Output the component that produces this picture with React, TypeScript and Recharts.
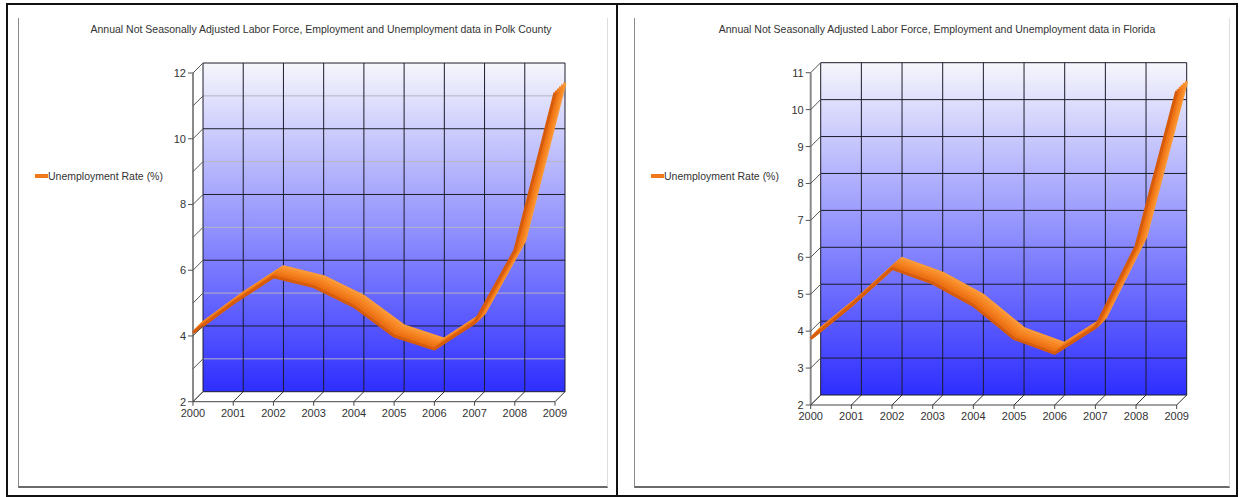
import { CartesianGrid, Legend, Line, LineChart, ReferenceLine, XAxis, YAxis } from "recharts";

const YEARS = ["2000", "2001", "2002", "2003", "2004", "2005", "2006", "2007", "2008", "2009"];
const POLK_RATE = [4.1, 5.0, 5.8, 5.5, 4.9, 4.0, 3.6, 4.4, 6.6, 11.4];
const FLORIDA_RATE = [3.8, 4.7, 5.7, 5.3, 4.7, 3.8, 3.4, 4.1, 6.3, 10.5];
const POLK_TICKS = [2, 3, 4, 5, 6, 7, 8, 9, 10, 11, 12];
const FLORIDA_TICKS = [2, 3, 4, 5, 6, 7, 8, 9, 10, 11];
const SERIES_NAME = "Unemployment Rate (%)";
const POLK_TITLE =
  "Annual Not Seasonally Adjusted Labor Force, Employment and Unemployment data in Polk County";
const FLORIDA_TITLE =
  "Annual Not Seasonally Adjusted Labor Force, Employment and Unemployment data in Florida";

const FONT = "Arial, 'Liberation Sans', Helvetica, sans-serif";
const DEPTH = 10;
const GRID_DARK = "#1c1c2c";
const GRID_LIGHT = "#b4b4c6";

// ribbon layers, back to front (d = distance from the front plane)
const LAYERS = [
  { d: 10, color: "#fb9a38", w: 3 },
  { d: 8, color: "#f98f2c", w: 3.5 },
  { d: 6, color: "#f68523", w: 3.5 },
  { d: 4, color: "#f27b1b", w: 3.5 },
  { d: 2, color: "#ec7014", w: 3.5 },
  { d: 0, color: "#d65b0a", w: 3 },
];

const emptyTick = () => <g />;

type PanelProps = {
  title: string;
  values: number[];
  ticks: number[];
  labelStep: number;
  gradId: string;
  left: number;
  top: number;
  width: number;
  height: number;
  plotLeft: number;
  plotTop: number;
  plotRight: number;
  plotBottom: number;
};

function DepthChart(p: PanelProps) {
  const data = YEARS.map((year, i) => ({ year, rate: p.values[i] }));
  const yMin = p.ticks[0];
  const yMax = p.ticks[p.ticks.length - 1];
  const margin = {
    top: p.plotTop,
    left: p.plotLeft - 40,
    right: p.width - p.plotRight,
    bottom: p.height - p.plotBottom - 30,
  };

  const yTick = (t: any) => {
    const v = Number(t.payload.value);
    const y = t.y;
    const ax = p.plotLeft;
    const labelled = (v - yMin) % p.labelStep === 0;
    return (
      <g>
        {labelled && <line x1={ax - 5} y1={y} x2={ax} y2={y} stroke="#555" />}
        <line x1={ax} y1={y} x2={ax + DEPTH} y2={y - DEPTH} stroke="#555" />
        {labelled && (
          <text x={ax - 7} y={y + 4} textAnchor="end" fontSize={11} fontFamily={FONT} fill="#333">
            {v}
          </text>
        )}
      </g>
    );
  };

  const xTick = (t: any) => {
    const x = t.x;
    const ay = p.plotBottom;
    return (
      <g>
        <line x1={x} y1={ay} x2={x} y2={ay + 4} stroke="#444" />
        <line x1={x} y1={ay} x2={x + DEPTH} y2={ay - DEPTH} stroke="#333" />
        <text x={x} y={ay + 15} textAnchor="middle" fontSize={11} fontFamily={FONT} fill="#333">
          {t.payload.value}
        </text>
      </g>
    );
  };

  const hLine = (l: any) => (
    <line
      key={l.key}
      x1={l.x1}
      y1={l.y1}
      x2={l.x2}
      y2={l.y2}
      stroke={p.labelStep === 2 && l.index % 2 === 1 ? GRID_LIGHT : GRID_DARK}
      strokeWidth={1}
    />
  );

  return (
    <div style={{ position: "absolute", left: p.left, top: p.top, width: p.width, height: p.height }}>
      <div
        style={{
          position: "absolute",
          inset: 0,
          borderLeft: "1px solid #8a8a8a",
          borderBottom: "2px solid #6a6a6a",
          borderRight: "1px solid #dddddd",
          boxSizing: "border-box",
        }}
      />
      <div
        style={{
          position: "absolute",
          left: 0,
          top: 4,
          width: 606,
          textAlign: "center",
          font: `10.5px ${FONT}`,
          lineHeight: "14px",
          color: "#333",
          whiteSpace: "nowrap",
        }}
      >
        {p.title}
      </div>
      <div style={{ position: "absolute", left: 0, top: 0 }}>
        <LineChart width={p.width} height={p.height} data={data} margin={margin}>
          <defs>
            <linearGradient id={p.gradId} x1="0" y1="0" x2="0" y2="1">
              <stop offset="0%" stopColor="#f6f6fc" />
              <stop offset="100%" stopColor="#2e2eff" />
            </linearGradient>
          </defs>
          {LAYERS.map((l) => (
            <XAxis
              key={`x${l.d}`}
              xAxisId={`x${l.d}`}
              dataKey="year"
              padding={{ left: l.d, right: DEPTH - l.d }}
              interval={0}
              hide={l.d !== 0}
              height={30}
              axisLine={false}
              tickLine={false}
              tick={l.d === 0 ? xTick : emptyTick}
            />
          ))}
          {LAYERS.map((l) => (
            <YAxis
              key={`y${l.d}`}
              yAxisId={`y${l.d}`}
              type="number"
              domain={[yMin, yMax]}
              ticks={p.ticks}
              interval={0}
              padding={{ top: DEPTH - l.d, bottom: l.d }}
              hide={l.d !== 0}
              width={40}
              axisLine={false}
              tickLine={false}
              tick={l.d === 0 ? yTick : emptyTick}
            />
          ))}
          <CartesianGrid
            xAxisId={`x${DEPTH}`}
            yAxisId={`y${DEPTH}`}
            x={p.plotLeft + DEPTH}
            y={p.plotTop}
            width={p.plotRight - p.plotLeft - DEPTH}
            height={p.plotBottom - p.plotTop - DEPTH}
            syncWithTicks
            fill={`url(#${p.gradId})`}
            fillOpacity={1}
            stroke={GRID_DARK}
            strokeOpacity={1}
            horizontal={hLine}
            vertical={{ stroke: GRID_DARK, strokeOpacity: 1 }}
          />
          <ReferenceLine
            xAxisId="x0"
            yAxisId="y0"
            segment={[
              { x: YEARS[0], y: yMin },
              { x: YEARS[YEARS.length - 1], y: yMin },
            ]}
            stroke="#444"
            strokeWidth={1}
          />
          <ReferenceLine
            xAxisId="x0"
            yAxisId="y0"
            segment={[
              { x: YEARS[0], y: yMin },
              { x: YEARS[0], y: yMax },
            ]}
            stroke="#8a8a8a"
            strokeWidth={2}
          />
          {LAYERS.map((l) => (
            <Line
              key={`line${l.d}`}
              xAxisId={`x${l.d}`}
              yAxisId={`y${l.d}`}
              dataKey="rate"
              name={SERIES_NAME}
              stroke={l.color}
              strokeWidth={l.w}
              strokeLinejoin="round"
              dot={false}
              activeDot={false}
              legendType={l.d === 0 ? "line" : "none"}
              isAnimationActive={false}
            />
          ))}
          <Legend
            layout="horizontal"
            align="center"
            verticalAlign="middle"
            wrapperStyle={{ left: 17, top: 152, width: "auto", height: "auto" }}
            content={() => (
              <div style={{ display: "flex", alignItems: "center", font: `10.5px ${FONT}`, color: "#333" }}>
                <span style={{ display: "inline-block", width: 13, height: 4, background: "#f07818" }} />
                <span>{SERIES_NAME}</span>
              </div>
            )}
          />
        </LineChart>
      </div>
    </div>
  );
}

export default function App() {
  return (
    <div
      style={{
        position: "absolute",
        left: 0,
        top: 0,
        width: 1239,
        height: 497,
        background: "#fff",
        overflow: "hidden",
      }}
    >
      <div
        style={{
          position: "absolute",
          left: 6,
          top: 3,
          width: 612,
          height: 494,
          border: "2px solid #111",
          boxSizing: "border-box",
        }}
      />
      <div
        style={{
          position: "absolute",
          left: 616,
          top: 3,
          width: 622,
          height: 494,
          border: "2px solid #111",
          boxSizing: "border-box",
        }}
      />
      <DepthChart
        title={POLK_TITLE}
        values={POLK_RATE}
        ticks={POLK_TICKS}
        labelStep={2}
        gradId="wallPolk"
        left={18}
        top={18}
        width={590}
        height={470}
        plotLeft={175}
        plotTop={45}
        plotRight={547}
        plotBottom={383.7}
      />
      <DepthChart
        title={FLORIDA_TITLE}
        values={FLORIDA_RATE}
        ticks={FLORIDA_TICKS}
        labelStep={1}
        gradId="wallFlorida"
        left={634}
        top={18}
        width={596}
        height={470}
        plotLeft={176.7}
        plotTop={44.7}
        plotRight={552.7}
        plotBottom={387}
      />
    </div>
  );
}
